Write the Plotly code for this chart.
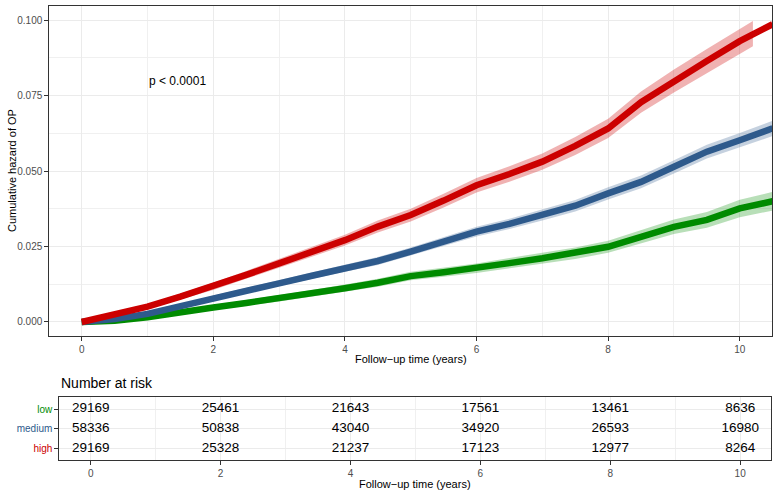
import plotly.graph_objects as go

# ---------------- data ----------------
times = [0, 0.5, 1, 1.5, 2, 2.5, 3, 3.5, 4, 4.5, 5, 5.5, 6, 6.5, 7, 7.5, 8, 8.5, 9, 9.5, 10, 10.5]

low_haz = [0, .0004, .0016, .0034, .0048, .0063, .0078, .0095, .0112, .0130, .0152, .0165,
           .0178, .0195, .0211, .0228, .0249, .0282, .0315, .0338, .0376, .0400]
low_lo = [0, .0001, .0011, .0027, .0040, .0054, .0068, .0084, .0100, .0117, .0138, .0150,
          .0162, .0178, .0193, .0209, .0229, .0260, .0291, .0312, .0347, .0369]
low_hi = [0, .0007, .0021, .0041, .0056, .0072, .0088, .0106, .0124, .0143, .0166, .0180,
          .0194, .0212, .0229, .0247, .0269, .0304, .0339, .0364, .0405, .0431]

med_haz = [0, .0010, .0027, .0051, .0080, .0104, .0128, .0153, .0178, .0202, .0233, .0266,
           .0299, .0325, .0354, .0385, .0426, .0464, .0514, .0564, .0602, .0641]
med_lo = [0, .0006, .0021, .0044, .0072, .0095, .0118, .0142, .0166, .0189, .0219, .0251,
          .0283, .0308, .0336, .0366, .0406, .0443, .0492, .0541, .0578, .0616]
med_hi = [0, .0014, .0033, .0058, .0088, .0113, .0138, .0164, .0190, .0215, .0247, .0281,
          .0315, .0342, .0372, .0404, .0446, .0485, .0536, .0587, .0626, .0666]

high_haz = [0, .0026, .0051, .0084, .0118, .0156, .0194, .0233, .0271, .0316, .0354, .0402,
            .0453, .0490, .0531, .0583, .0641, .0728, .0798, .0864, .0930, .0986]
high_band_t = [0, 0.5, 1, 1.5, 2, 2.5, 3, 3.5, 4, 4.5, 5, 5.5, 6, 6.5, 7, 7.5, 8, 8.5, 9, 9.5, 10, 10.2]
high_lo = [0, .0020, .0043, .0074, .0106, .0143, .0179, .0217, .0253, .0296, .0333, .0379,
           .0429, .0464, .0504, .0553, .0609, .0693, .0760, .0824, .0888, .0913]
high_hi = [0, .0032, .0059, .0094, .0130, .0169, .0209, .0249, .0289, .0336, .0375, .0425,
           .0477, .0516, .0558, .0613, .0673, .0763, .0836, .0904, .0972, .0997]

groups = ["low", "medium", "high"]
colors = {"low": "#008B00", "medium": "#2E5A8C", "high": "#CC0000"}
bands = {"low": "rgba(0,139,0,0.28)", "medium": "rgba(46,90,140,0.28)", "high": "rgba(204,0,0,0.30)"}

risk_times = [0, 2, 4, 6, 8, 10]
risk_low = [29169, 25461, 21643, 17561, 13461, 8636]
risk_medium = [58336, 50838, 43040, 34920, 26593, 16980]
risk_high = [29169, 25328, 21237, 17123, 12977, 8264]

x_ticks = [0, 2, 4, 6, 8, 10]
y_ticks = [0, 0.025, 0.05, 0.075, 0.1]

# ---------------- figure ----------------
W, H = 778, 496
FONT = "Liberation Sans, Arial, Helvetica, sans-serif"
fig = go.Figure()

series = [
    ("low", times, low_haz, times, low_lo, low_hi),
    ("medium", times, med_haz, times, med_lo, med_hi),
    ("high", times, high_haz, high_band_t, high_lo, high_hi),
]
for name, t, h, bt, lo, hi in series:
    fig.add_trace(go.Scatter(x=list(bt) + list(bt)[::-1], y=list(hi) + list(lo)[::-1],
                             fill="toself", fillcolor=bands[name], line=dict(width=0),
                             mode="lines", hoverinfo="skip", xaxis="x", yaxis="y"))
for name, t, h, bt, lo, hi in series:
    fig.add_trace(go.Scatter(x=t, y=h, mode="lines", name=name,
                             line=dict(color=colors[name], width=6.5),
                             xaxis="x", yaxis="y"))

# risk table text
for name, vals, row in [("low", risk_low, 3), ("medium", risk_medium, 2), ("high", risk_high, 1)]:
    fig.add_trace(go.Scatter(x=risk_times, y=[row] * len(risk_times), mode="text",
                             text=[str(v) for v in vals],
                             textfont=dict(size=13.5, color="black", family=FONT),
                             textposition="middle center", xaxis="x2", yaxis="y2",
                             hoverinfo="skip"))

axis_common = dict(
    ticks="outside", ticklen=4, tickcolor="#333333", tickwidth=1,
    tickfont=dict(size=10, color="#4D4D4D", family=FONT),
    showline=True, mirror=True, linecolor="#333333", linewidth=1,
    zeroline=False, showgrid=True, gridcolor="#EBEBEB", gridwidth=1,
    automargin=False,
)

ticktext_rows = [f"<span style='color:{colors['high']}'>high</span>",
                 f"<span style='color:{colors['medium']}'>medium</span>",
                 f"<span style='color:{colors['low']}'>low</span>"]

fig.update_layout(
    template="none",
    width=W, height=H,
    margin=dict(l=0, r=0, t=0, b=0),
    paper_bgcolor="white", plot_bgcolor="white",
    showlegend=False,
    font=dict(family=FONT),
    xaxis=dict(domain=[49.3 / W, 772 / W], anchor="y", range=[-0.492, 10.49],
               tickvals=x_ticks,
               minor=dict(dtick=1, tick0=0, showgrid=True, gridcolor="#F0F0F0", gridwidth=0.6),
               **axis_common),
    yaxis=dict(domain=[(H - 336) / H, (H - 5.7) / H], anchor="x", range=[-0.00464, 0.10474],
               tickvals=y_ticks, tickformat=".3f",
               minor=dict(dtick=0.0125, tick0=0, showgrid=True, gridcolor="#F0F0F0", gridwidth=0.6),
               **axis_common),
    xaxis2=dict(domain=[59.3 / W, 770.7 / W], anchor="y2", range=[-0.484, 10.47],
                tickvals=x_ticks,
                minor=dict(dtick=1, tick0=0, showgrid=True, gridcolor="#F0F0F0", gridwidth=0.6),
                **axis_common),
    yaxis2=dict(domain=[(H - 460) / H, (H - 397.3) / H], anchor="x2", range=[0.4, 3.6],
                tickvals=[1, 2, 3], ticktext=ticktext_rows,
                **axis_common),
)

annotations = [
    dict(text="p < 0.0001", x=1.0, y=0.0798, xref="x", yref="y", xanchor="left",
         yanchor="middle", showarrow=False, font=dict(size=12, color="black", family=FONT)),
    dict(text="Follow−up time (years)", x=410.6 / W, y=(H - 359) / H, xref="paper", yref="paper",
         xanchor="center", yanchor="middle", showarrow=False,
         font=dict(size=11, color="black", family=FONT)),
    dict(text="Cumulative hazard of OP", x=12 / W, y=(H - 171) / H, xref="paper", yref="paper",
         xanchor="center", yanchor="middle", textangle=-90, showarrow=False,
         font=dict(size=11, color="black", family=FONT)),
    dict(text="Number at risk", x=59.3 / W, y=(H - 383) / H, xref="paper", yref="paper",
         xanchor="left", yanchor="middle", showarrow=False,
         font=dict(size=14, color="black", family=FONT)),
    dict(text="Follow−up time (years)", x=415 / W, y=(H - 484) / H, xref="paper", yref="paper",
         xanchor="center", yanchor="middle", showarrow=False,
         font=dict(size=11, color="black", family=FONT)),
]
fig.update_layout(annotations=annotations)

fig.write_html("out.html")
